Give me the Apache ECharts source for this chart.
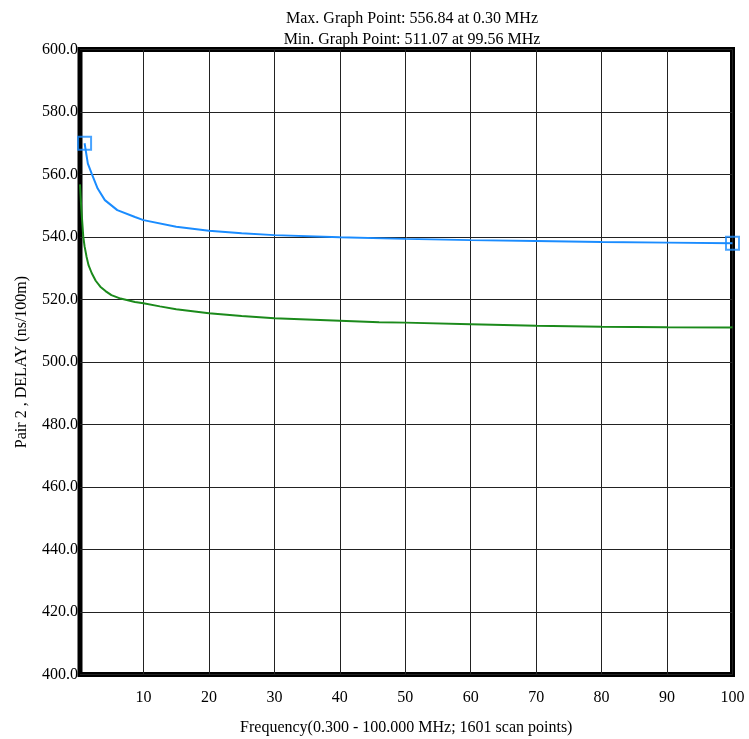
<!DOCTYPE html>
<html>
<head>
<meta charset="utf-8">
<script src="https://cdn.jsdelivr.net/npm/echarts@6/dist/echarts.min.js"></script>
<style>html,body{margin:0;padding:0;background:#fff}#c{width:749px;height:739px}</style>
</head>
<body>
<div id="c"></div>
<script>
// Measured delay (green)
var measFreq  = [0.3, 0.5, 0.8, 1.0, 1.3, 1.6, 2.1, 2.7, 3.4, 4.2, 5.1, 6.5, 8.7, 10, 12.5, 15, 20, 25, 30, 35, 40, 46, 50, 60, 70, 80, 90, 99.56, 100];
var measDelay = [556.84, 549.0, 540.1, 537.0, 533.7, 531.0, 528.4, 526.0, 524.1, 522.7, 521.4, 520.3, 519.2, 518.8, 517.8, 516.9, 515.6, 514.7, 514.0, 513.6, 513.2, 512.7, 512.6, 512.1, 511.6, 511.3, 511.15, 511.07, 511.1];
// Limit line (blue)
var limFreq  = [1.0, 1.5, 2.1, 3.0, 4.1, 6.0, 8.7, 10, 15, 20, 25, 30, 40, 50, 60, 70, 80, 90, 100];
var limDelay = [570.0, 563.5, 560.2, 555.5, 551.8, 548.6, 546.4, 545.4, 543.3, 542.0, 541.2, 540.6, 539.9, 539.4, 539.0, 538.7, 538.4, 538.2, 538.0];
var xTicks = [10, 20, 30, 40, 50, 60, 70, 80, 90, 100];
var titleLines = ["Max. Graph Point: 556.84 at 0.30 MHz", "Min. Graph Point: 511.07 at 99.56 MHz"];
var xName = "Frequency(0.300 - 100.000 MHz; 1601 scan points)";
var yName = "Pair 2 , DELAY (ns/100m)";
var xMin = 0.3, xMax = 100;
var yMin = 400, yMax = 600, yStep = 20;

function zip(a, b) { return a.map(function (v, i) { return [v, b[i]]; }); }
var limData = zip(limFreq, limDelay);
var markerData = [limData[0], limData[limData.length - 1]];

var font = "'Liberation Serif', 'Times New Roman', serif";
var chart = echarts.init(document.getElementById('c'), null, {renderer: 'canvas'});
chart.setOption({
  animation: false,
  backgroundColor: '#fff',
  title: {
    text: titleLines.join('\n'),
    left: 407, top: 3, textAlign: 'center',
    textStyle: {fontFamily: font, fontSize: 16, fontWeight: 'normal', color: '#000', lineHeight: 21}
  },
  grid: {left: 80, right: 16.5, top: 49.5, bottom: 64.5, show: true, borderColor: '#000', borderWidth: 5,
    backgroundColor: 'transparent', containLabel: false, outerBoundsMode: 'none'},
  xAxis: {
    type: 'value', min: xMin, max: xMax,
    name: xName, nameLocation: 'middle', nameGap: 45,
    nameTextStyle: {fontFamily: font, fontSize: 16, color: '#000'},
    axisLine: {show: false},
    axisTick: {show: false, customValues: xTicks},
    axisLabel: {fontFamily: font, fontSize: 16, color: '#000', margin: 15, customValues: xTicks,
      formatter: function (v) { return String(Math.round(v)); }},
    splitLine: {show: true, lineStyle: {color: '#222', width: 1}}
  },
  yAxis: {
    type: 'value', min: yMin, max: yMax, interval: yStep,
    name: yName, nameLocation: 'middle', nameGap: 50,
    nameTextStyle: {fontFamily: font, fontSize: 16, color: '#000'},
    axisLine: {show: false}, axisTick: {show: false},
    axisLabel: {fontFamily: font, fontSize: 16, color: '#000', margin: 2,
      formatter: function (v) { return v.toFixed(1); }},
    splitLine: {show: true, lineStyle: {color: '#222', width: 1}}
  },
  series: [
    {type: 'line', data: limData, symbol: 'none', lineStyle: {color: '#1a8cff', width: 2}, z: 3},
    {type: 'line', data: zip(measFreq, measDelay), symbol: 'none', lineStyle: {color: '#1b8a1b', width: 2}, z: 3},
    {type: 'scatter', data: markerData, symbol: 'rect', symbolSize: 13,
      itemStyle: {color: 'rgba(0,0,0,0)', borderColor: '#1a8cff', borderWidth: 2}, z: 4}
  ]
});
</script>
</body>
</html>
